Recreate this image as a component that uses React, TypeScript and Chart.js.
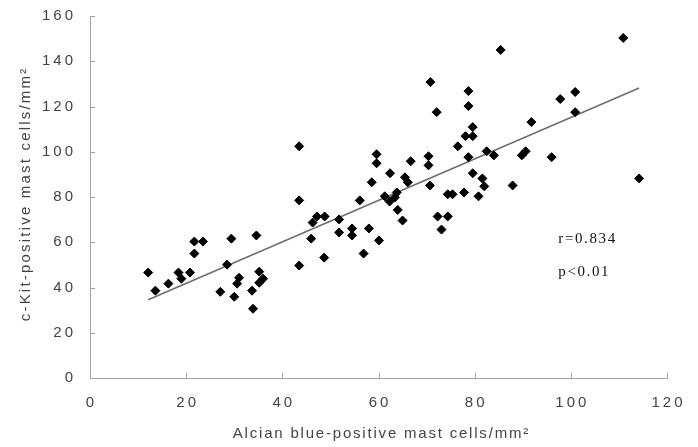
import React, { useEffect, useRef } from "react";
import { Chart, registerables } from "chart.js";

Chart.register(...registerables);

// Alcian blue-positive mast cells/mm² (x) vs c-Kit-positive mast cells/mm² (y)
const alcianBlue = [
  12.1, 13.6, 16.3, 18.4, 19.0, 20.8, 21.7, 21.7, 23.5, 27.1,
  28.5, 29.4, 30.0, 30.6, 31.0, 33.7, 33.9, 34.6, 35.2, 35.2,
  36.0, 43.5, 43.5, 43.5, 46.0, 46.3, 47.2, 48.7, 48.8, 51.8,
  51.8, 54.5, 54.5, 56.1, 56.9, 58.0, 58.6, 59.6, 59.6, 60.1,
  61.3, 62.3, 62.4, 63.4, 63.8, 64.0, 65.0, 65.5, 66.1, 66.7,
  70.4, 70.4, 70.7, 70.8, 72.1, 72.3, 73.1, 74.4, 74.4, 75.4,
  76.5, 77.8, 78.1, 78.7, 78.7, 78.7, 79.6, 79.6, 79.6, 80.8,
  81.6, 82.0, 82.5, 84.0, 85.4, 87.9, 89.8, 90.6, 91.8, 96.0,
  97.8, 100.9, 100.9, 110.9, 114.2,
];
const cKit = [
  46.6, 38.6, 41.7, 46.6, 43.9, 46.6, 55.0, 60.3, 60.3, 38.1,
  50.1, 61.6, 35.9, 41.7, 44.3, 38.6, 30.6, 63.0, 47.0, 42.1,
  43.9, 102.4, 78.5, 49.7, 61.6, 68.7, 71.4, 53.2, 71.4, 70.1,
  64.3, 66.1, 63.0, 78.5, 55.0, 66.1, 86.5, 98.9, 94.9, 60.8,
  80.3, 78.0, 90.5, 79.8, 82.0, 74.3, 69.6, 88.7, 86.5, 95.8,
  98.0, 94.0, 85.1, 130.8, 117.5, 71.4, 65.6, 71.4, 81.2, 81.2,
  102.4, 82.0, 106.9, 126.8, 120.2, 97.6, 110.9, 106.9, 90.5, 80.3,
  88.2, 84.7, 100.2, 98.4, 145.0, 85.1, 98.4, 100.2, 113.1, 97.6,
  123.3, 126.4, 117.5, 150.3, 88.2,
];

// Least-squares line endpoints
const fitX = [12.1, 114.2];
const fitY = [34.6, 128.2];

const xTicks = [0, 20, 40, 60, 80, 100, 120];
const yTicks = [0, 20, 40, 60, 80, 100, 120, 140, 160];

const xTitle = "Alcian blue-positive mast cells/mm²";
const yTitle = "c-Kit-positive mast cells/mm²";

const statLines = ["r=0.834", "p<0.01"];
const statAnchor = { x: 97.4, y: [61.6, 47.0] };

const axisGray = "#a3a3a3";
const textGray = "#444444";
const sans = '"Liberation Sans", Arial, sans-serif';

function spacedText(
  ctx: CanvasRenderingContext2D,
  text: string,
  x: number,
  y: number,
  align: "left" | "center" | "right",
  spacing: number
) {
  (ctx as any).letterSpacing = `${spacing}px`;
  ctx.textAlign = align;
  // canvas adds spacing after the last glyph too; shift to compensate
  const shift = align === "center" ? spacing / 2 : align === "right" ? spacing : 0;
  ctx.fillText(text, x + shift, y);
  (ctx as any).letterSpacing = "0px";
}

const axisDecorPlugin = {
  id: "axisDecor",
  afterDraw(chart: any) {
    const { ctx, chartArea, scales } = chart;
    const xs = scales.x;
    const ys = scales.y;
    ctx.save();

    // inward tick marks
    ctx.strokeStyle = axisGray;
    ctx.lineWidth = 1;
    ctx.beginPath();
    for (const v of xTicks) {
      const px = Math.round(xs.getPixelForValue(v)) + 0.5;
      ctx.moveTo(px, chartArea.bottom);
      ctx.lineTo(px, chartArea.bottom - 5);
    }
    for (const v of yTicks) {
      const py = Math.round(ys.getPixelForValue(v)) + 0.5;
      ctx.moveTo(chartArea.left, py);
      ctx.lineTo(chartArea.left + 5, py);
    }
    ctx.stroke();

    // tick labels
    ctx.fillStyle = textGray;
    ctx.font = `15px ${sans}`;
    ctx.textBaseline = "middle";
    for (const v of xTicks) {
      spacedText(ctx, String(v), xs.getPixelForValue(v), chartArea.bottom + 25, "center", 3);
    }
    for (const v of yTicks) {
      spacedText(ctx, String(v), chartArea.left - 17, ys.getPixelForValue(v), "right", 3);
    }

    // axis titles
    ctx.font = `15px ${sans}`;
    spacedText(ctx, xTitle, (chartArea.left + chartArea.right) / 2 + 2, 434, "center", 1.8);
    ctx.save();
    ctx.translate(26, (chartArea.top + chartArea.bottom) / 2 - 2);
    ctx.rotate(-Math.PI / 2);
    spacedText(ctx, yTitle, 0, 0, "center", 2.2);
    ctx.restore();

    // correlation annotation
    ctx.fillStyle = "#111111";
    ctx.font = '15px "Liberation Serif", serif';
    statLines.forEach((t, i) => {
      spacedText(
        ctx,
        t,
        xs.getPixelForValue(statAnchor.x),
        ys.getPixelForValue(statAnchor.y[i]),
        "left",
        1.6
      );
    });
    ctx.restore();
  },
};

export default function App() {
  const canvasRef = useRef<HTMLCanvasElement | null>(null);

  useEffect(() => {
    if (!canvasRef.current) return;
    const points = alcianBlue.map((x, i) => ({ x, y: cKit[i] }));
    const fit = fitX.map((x, i) => ({ x, y: fitY[i] }));

    const chart = new Chart(canvasRef.current, {
      type: "scatter",
      data: {
        datasets: [
          {
            label: "mast cells",
            data: points,
            pointStyle: "rectRot",
            pointRadius: 4.5,
            pointBackgroundColor: "#000",
            pointBorderColor: "#000",
            pointBorderWidth: 1,
            showLine: false,
          },
          {
            label: "fit",
            data: fit,
            showLine: true,
            borderColor: "#6e6e6e",
            borderWidth: 1.6,
            pointRadius: 0,
            fill: false,
          },
        ],
      },
      options: {
        animation: false,
        responsive: true,
        maintainAspectRatio: false,
        layout: { padding: { top: 16, right: 31, left: 0, bottom: 0 } },
        plugins: {
          legend: { display: false },
          tooltip: { enabled: false },
        },
        scales: {
          x: {
            type: "linear",
            min: 0,
            max: 120,
            afterFit: (s: any) => {
              s.height = 69;
            },
            afterBuildTicks: (s: any) => {
              s.ticks = xTicks.map((v) => ({ value: v }));
            },
            grid: { display: false, drawTicks: false },
            border: { display: true, color: axisGray, width: 1 },
            ticks: { display: false },
            title: { display: false },
          },
          y: {
            type: "linear",
            min: 0,
            max: 160,
            afterFit: (s: any) => {
              s.width = 90;
            },
            afterBuildTicks: (s: any) => {
              s.ticks = yTicks.map((v) => ({ value: v }));
            },
            grid: { display: false, drawTicks: false },
            border: { display: true, color: axisGray, width: 1 },
            ticks: { display: false },
            title: { display: false },
          },
        },
      },
      plugins: [axisDecorPlugin],
    });

    return () => chart.destroy();
  }, []);

  return (
    <div
      style={{
        position: "absolute",
        left: 0,
        top: 0,
        width: 698,
        height: 447,
        background: "#fff",
      }}
    >
      <canvas ref={canvasRef} />
    </div>
  );
}
